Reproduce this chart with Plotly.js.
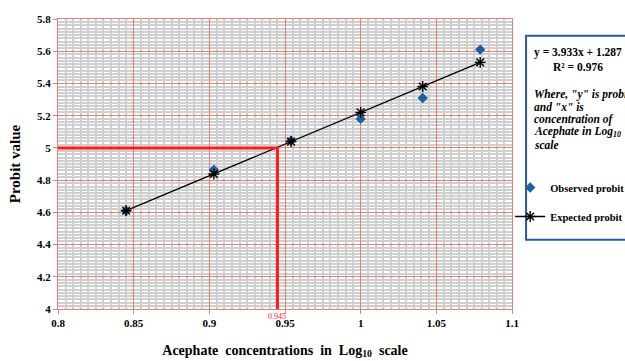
<!DOCTYPE html>
<html>
<head>
<meta charset="utf-8">
<script src="https://cdn.plot.ly/plotly-3.0.1.min.js"></script>
<style>html,body{margin:0;padding:0;background:#fff;}#chart{width:625px;height:361px;}</style>
</head>
<body>
<div id="chart"></div>
<script>
// Data
const logConc = [0.845, 0.903, 0.954, 1.0, 1.041, 1.079];
const observedProbit = [4.61, 4.865, 5.045, 5.18, 5.31, 5.61];
const expectedProbit = [4.61, 4.838, 5.039, 5.22, 5.381, 5.531];
const lc50Log = 0.945;
const probit50 = 5;
const xAxisMin = 0.8;
const yAxisMin = 4;
const equationText = ["y = 3.933x + 1.287", "R\u00b2 = 0.976"];
const noteText = ["Where, \"y\" is probit", "and \"x\" is", "concentration of", "Acephate in Log<sub>10</sub>", "scale"];

const serif = "Liberation Serif";
const notePos = [0.741, 0.696, 0.653, 0.610, 0.565];

const traces = [
  {
    x: logConc, y: observedProbit, type: "scatter", mode: "markers",
    name: "Observed probit", legendgroup: "a",
    marker: {symbol: "diamond", size: 8, color: "#1f5f9f"}
  },
  {
    x: logConc, y: expectedProbit, type: "scatter", mode: "lines+markers",
    name: "Expected probit", legendgroup: "b",
    line: {color: "#000", width: 1.3},
    marker: {symbol: "asterisk-open", size: 9, color: "#000", line: {color: "#000", width: 1.4}}
  },
  {
    x: [xAxisMin, lc50Log, lc50Log], y: [probit50, probit50, yAxisMin],
    type: "scatter", mode: "lines", showlegend: false, hoverinfo: "skip",
    line: {color: "#ff1a1a", width: 3}
  }
];

const annotations = [
  {xref: "paper", yref: "paper", x: 1.044, y: 0.915, xanchor: "left", yanchor: "top", align: "center",
   text: "<b>" + equationText.join("<br>") + "</b>", showarrow: false,
   font: {family: serif, size: 11.5, color: "#000"}},
  {xref: "x", yref: "y", x: lc50Log, y: yAxisMin, yanchor: "top", yshift: -1,
   text: String(lc50Log), showarrow: false,
   font: {family: serif, size: 8, color: "#ff1a1a"}}
];
noteText.forEach(function (t, i) {
  annotations.push({xref: "paper", yref: "paper", x: 1.044, y: notePos[i], xanchor: "left", yanchor: "middle",
    align: "left", text: "<b><i>" + t + "</i></b>", showarrow: false,
    font: {family: serif, size: 11.5, color: "#000"}});
});

const layout = {
  width: 625, height: 361,
  margin: {l: 58, r: 113, t: 19, b: 52, autoexpand: false},
  paper_bgcolor: "#fff", plot_bgcolor: "#fff",
  showlegend: true,
  legend: {x: 0.996, y: 0.469, xanchor: "left", yanchor: "top", bgcolor: "rgba(0,0,0,0)",
           traceorder: "grouped", tracegroupgap: 10, itemwidth: 30,
           font: {family: serif, size: 10.5, color: "#000", weight: "bold"}},
  xaxis: {
    range: [0.8, 1.1], dtick: 0.05, tick0: 0.8,
    showgrid: true, gridcolor: "#ec7d72", gridwidth: 1,
    minor: {dtick: 0.005, showgrid: true, gridcolor: "#cfcfcf", gridwidth: 2},
    showline: true, mirror: true, linecolor: "#ec7d72", linewidth: 1,
    ticks: "outside", ticklen: 4, tickcolor: "#999",
    zeroline: false,
    tickfont: {family: serif, size: 11, color: "#000", weight: "bold"},
    title: {text: "Acephate  concentrations  in  Log<sub>10</sub>  scale", standoff: 16,
            font: {family: serif, size: 14, color: "#000", weight: "bold"}}
  },
  yaxis: {
    range: [4, 5.8], dtick: 0.2, tick0: 4,
    showgrid: true, gridcolor: "#ec7d72", gridwidth: 1,
    minor: {dtick: 0.02, showgrid: true, gridcolor: "#cfcfcf", gridwidth: 2},
    showline: true, mirror: true, linecolor: "#ec7d72", linewidth: 1,
    ticks: "outside", ticklen: 4, tickcolor: "#999",
    zeroline: false,
    tickfont: {family: serif, size: 11, color: "#000", weight: "bold"},
    title: {text: "Probit value", standoff: 12,
            font: {family: serif, size: 15, color: "#000", weight: "bold"}}
  },
  shapes: [
    {type: "rect", xref: "paper", yref: "paper", x0: 1.031, x1: 1.4, y0: 0.239, y1: 0.942,
     line: {color: "#2a5a9a", width: 2}, fillcolor: "rgba(0,0,0,0)"}
  ],
  annotations: annotations
};

Plotly.newPlot("chart", traces, layout, {displayModeBar: false, staticPlot: true});
</script>
</body>
</html>
